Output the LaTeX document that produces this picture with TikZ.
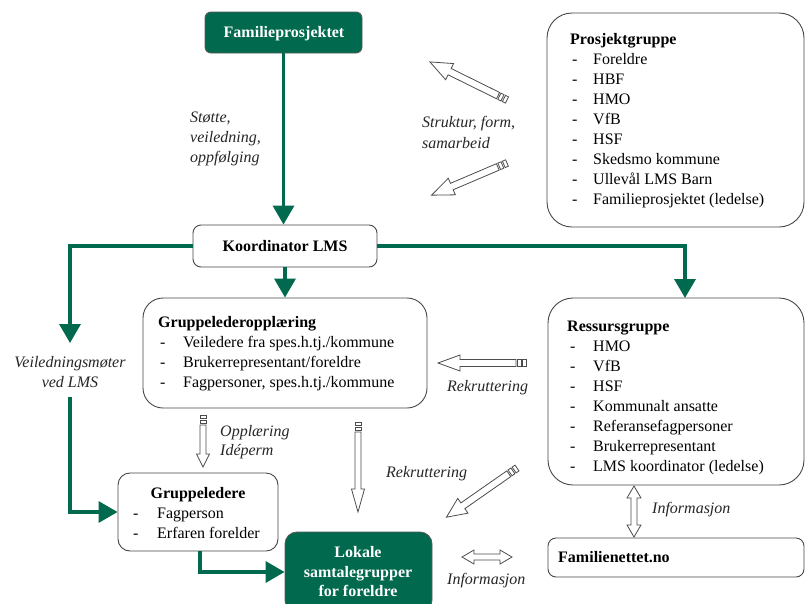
\documentclass[tikz,border=0pt]{standalone}
\usepackage{fontspec}
\setmainfont{Liberation Serif}
\usetikzlibrary{arrows.meta,calc,fit}
\definecolor{dgreen}{RGB}{0,105,78}
\definecolor{lineg}{RGB}{70,70,70}
\newcommand\stripearrow[4]{%
  \draw[hol] (0,-#4) rectangle (3.5,#4);
  \draw[hol] (5,-#4) rectangle (8.5,#4);
  \draw[hol] (10,-#4) -- ({#1-#2},-#4) -- ({#1-#2},-#3) -- (#1,0) -- ({#1-#2},#3) -- ({#1-#2},#4) -- (10,#4) -- cycle;
}
\newcommand\dblarrow[4]{%
  \draw[hol] (0,0) -- (#2,#3) -- (#2,#4) -- ({#1-#2},#4) -- ({#1-#2},#3) -- (#1,0) -- ({#1-#2},-#3) -- ({#1-#2},-#4) -- (#2,-#4) -- (#2,-#3) -- cycle;
}
\tikzset{
  box/.style={draw=lineg, line width=0.9pt, fill=white, inner sep=0pt},
  gbox/.style={draw=black!65, line width=0.9pt, fill=dgreen, inner sep=0pt},
  txt/.style={font=\fontsize{16}{20}\selectfont, inner sep=0pt, anchor=base west},
  btxt/.style={txt, font=\fontsize{16}{20}\selectfont\bfseries},
  itxt/.style={txt, font=\fontsize{16}{20}\selectfont\itshape, text=black!85},
  garrow/.style={draw=dgreen, line width=3.5pt, -{Triangle[width=21pt,length=19pt]}},
  hol/.style={draw=black!70, line width=0.8pt, fill=white, line join=miter},
}
\begin{document}
\begin{tikzpicture}[x=1pt,y=-1pt]
\useasboundingbox (0,0) rectangle (806,603);

% boxes
\node[gbox, rounded corners=6pt, fit={(205,12) (362,53)}] (fam) {};
\node[box, rounded corners=25pt, fit={(547,13) (804,227)}] (pg) {};
\node[box, rounded corners=8pt, fit={(193,225) (377,267)}] (koord) {};
\node[box, rounded corners=20pt, fit={(143,298) (427,408)}] (gopp) {};
\node[box, rounded corners=25pt, fit={(548,298) (804,485)}] (ress) {};
\node[box, rounded corners=12pt, fit={(118,473) (278,551)}] (grl) {};
\node[gbox, rounded corners=12pt, fit={(285,532) (432,612)}] (lok) {};
\node[box, rounded corners=8pt, fit={(548,538) (804,577)}] (fnet) {};

% green connectors
\draw[garrow] (fam.south) -- (fam.south |- koord.north);
\draw[garrow] (koord.south) -- (koord.south |- gopp.north);
\coordinate (vA) at (70,343);
\coordinate (vB) at (70,397);
\draw[garrow] (koord.west) -| (vA);
\draw[garrow] (vB) |- (grl.west);
\coordinate (rA) at (685,298);
\draw[garrow] (koord.east) -| (rA);
\coordinate (gB) at (200,551);
\draw[garrow] (gB) |- (lok.west);

% hollow striped arrows
\coordinate (sa1) at (507,100);
\begin{scope}[shift={(sa1)}, rotate=153.7] \stripearrow{86}{22}{9}{3.5} \end{scope}
\coordinate (sa2) at (507,163);
\begin{scope}[shift={(sa2)}, rotate=203.1] \stripearrow{82}{22}{9}{3.5} \end{scope}
\coordinate (sa3) at (526,363);
\begin{scope}[shift={(sa3)}, rotate=180] \stripearrow{88}{22}{8}{3.5} \end{scope}
\coordinate (sa4) at (203,415);
\begin{scope}[shift={(sa4)}, rotate=-90] \stripearrow{52}{13}{6.5}{3} \end{scope}
\coordinate (sa5) at (358,422);
\begin{scope}[shift={(sa5)}, rotate=-90] \stripearrow{90}{23}{6.5}{3} \end{scope}
\coordinate (sa6) at (517,468);
\begin{scope}[shift={(sa6)}, rotate=214.9] \stripearrow{86}{20}{9}{3.5} \end{scope}
\coordinate (da1) at (462,557);
\begin{scope}[shift={(da1)}] \dblarrow{50}{12}{7}{3} \end{scope}
\coordinate (da2) at (634,486);
\begin{scope}[shift={(da2)}, rotate=-90] \dblarrow{51}{12}{7}{3} \end{scope}

% texts
\node[btxt, anchor=base, text=white] (famt) at (284,37) {Familieprosjektet};
\node[btxt, anchor=base] (koordt) at (285,251) {Koordinator LMS};

\node[btxt] (pgt) at (570,44) {Prosjektgruppe};
\foreach \t [count=\i] in {Foreldre,HBF,HMO,VfB,HSF,Skedsmo kommune,Ullevål LMS Barn,Familieprosjektet (ledelse)}
  \node[txt] (pg\i) at (572,{44+20*\i}) {\makebox[21pt][l]{-}\t};

\node[btxt] (resst) at (567,331) {Ressursgruppe};
\foreach \t [count=\i] in {HMO,VfB,HSF,Kommunalt ansatte,Referansefagpersoner,Brukerrepresentant,LMS koordinator (ledelse)}
  \node[txt] (rs\i) at (570,{331+20*\i}) {\makebox[23pt][l]{-}\t};

\node[btxt] (goppt) at (158,327) {Gruppelederopplæring};
\foreach \t [count=\i] in {Veiledere fra spes.h.tj./kommune,Brukerrepresentant/foreldre,{Fagpersoner, spes.h.tj./kommune}}
  \node[txt] (go\i) at (160,{327+20*\i}) {\makebox[23pt][l]{-}\t};

\node[btxt, anchor=base] (grlt) at (198,498) {Gruppeledere};
\node[txt] (gl1) at (133,518) {\makebox[24pt][l]{-}Fagperson};
\node[txt] (gl2) at (133,538) {\makebox[24pt][l]{-}Erfaren forelder};

\node[btxt, anchor=base, text=white] (lok1) at (358,557) {Lokale};
\node[btxt, anchor=base, text=white] (lok2) at (358,577) {samtalegrupper};
\node[btxt, anchor=base, text=white] (lok3) at (358,596) {for foreldre};

\node[btxt] (fnett) at (558,562) {Familienettet.no};

% italic labels
\node[itxt] (st1) at (190,122) {Støtte,};
\node[itxt] (st2) at (190,142) {veiledning,};
\node[itxt] (st3) at (190,162) {oppfølging};
\node[itxt] (sk1) at (422,127) {Struktur, form,};
\node[itxt] (sk2) at (422,148) {samarbeid};
\node[itxt, anchor=base] (vl1) at (70,367) {Veiledningsmøter};
\node[itxt, anchor=base] (vl2) at (70,387) {ved LMS};
\node[itxt] (rk1) at (447,391) {Rekruttering};
\node[itxt] (op1) at (220,436) {Opplæring};
\node[itxt] (op2) at (220,455) {Idéperm};
\node[itxt] (rk2) at (386,477) {Rekruttering};
\node[itxt] (inf1) at (447,584) {Informasjon};
\node[itxt] (inf2) at (652,513) {Informasjon};
\end{tikzpicture}
\end{document}
